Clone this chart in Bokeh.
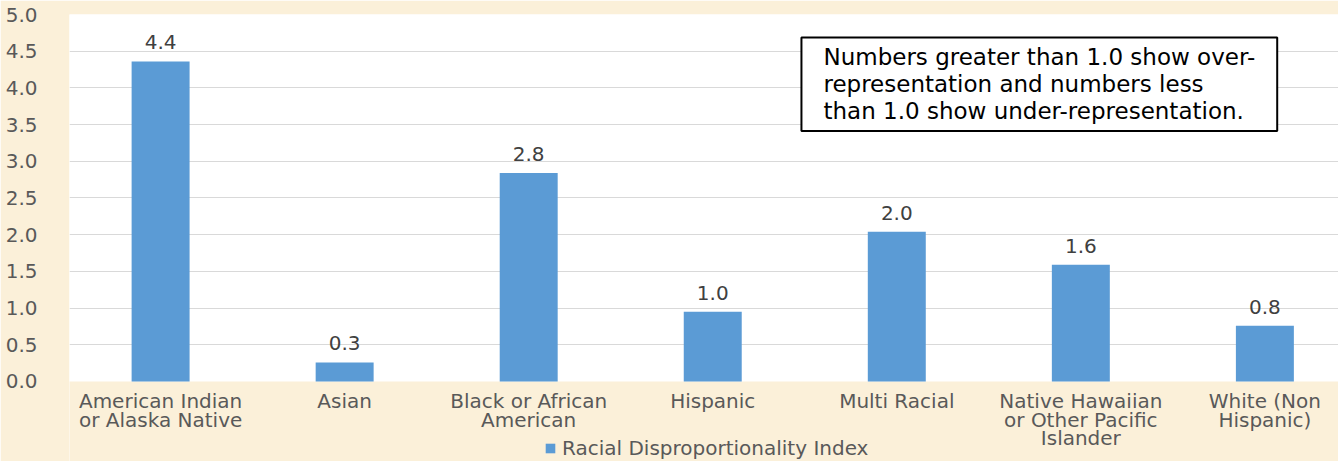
from bokeh.plotting import figure
from bokeh.models import (Range1d, FixedTicker, ColumnDataSource, LabelSet, Label,
                          Legend, LegendItem, NumeralTickFormatter, BoxAnnotation)
from bokeh.core.properties import value
from bokeh.embed import file_html
from bokeh.resources import INLINE

# ---- data ----
categories = [
    "American Indian\nor Alaska Native",
    "Asian",
    "Black or African\nAmerican",
    "Hispanic",
    "Multi Racial",
    "Native Hawaiian\nor Other Pacific\nIslander",
    "White (Non\nHispanic)",
]
values = [4.36, 0.26, 2.84, 0.95, 2.04, 1.59, 0.76]
value_labels = ["4.4", "0.3", "2.8", "1.0", "2.0", "1.6", "0.8"]
y_ticks = [0.0, 0.5, 1.0, 1.5, 2.0, 2.5, 3.0, 3.5, 4.0, 4.5, 5.0]
series_name = "Racial Disproportionality Index"
note_text = ("Numbers greater than 1.0 show over-\n"
             "representation and numbers less\n"
             "than 1.0 show under-representation.")

FONT = "DejaVu Sans"
TXT = "#595959"
BEIGE = "#fbf0d9"

xs = list(range(len(categories)))
src = ColumnDataSource(dict(x=xs, top=values, label=value_labels,
                            base=[0.0] * len(xs)))

# the frame runs to the bottom of the canvas; the area under 0 is the
# category-label / legend strip
p = figure(width=1338, height=461, output_backend="svg", toolbar_location=None,
           x_range=Range1d(-0.495, 6.40), y_range=Range1d(-1.09, 5),
           min_border_left=69, min_border_right=0, min_border_top=14,
           min_border_bottom=0)
p.background_fill_color = "white"
p.border_fill_color = BEIGE
p.outline_line_color = None

p.add_layout(BoxAnnotation(top=0, left=-0.6, fill_color=BEIGE, fill_alpha=1.0,
                           line_color=None, level="underlay"))

r = p.vbar(x="x", top="top", width=0.315, source=src,
           fill_color="#5b9bd5", line_color=None)

p.add_layout(LabelSet(x="x", y="top", text="label", source=src,
                      y_offset=12, text_align="center", text_baseline="alphabetic",
                      text_font=value(FONT), text_font_size="20px",
                      text_color="#404040"))

# category labels under the bars, one centred LabelSet per text line
split = [c.split("\n") for c in categories]
n_lines = max(len(s) for s in split)
line_offsets = [-27, -45.5, -64]
for k in range(n_lines):
    line_src = ColumnDataSource(dict(
        x=xs, base=[0.0] * len(xs),
        text=[s[k] if k < len(s) else "" for s in split]))
    p.add_layout(LabelSet(x="x", y="base", text="text", source=line_src,
                          y_offset=line_offsets[k], text_align="center",
                          text_baseline="alphabetic",
                          text_font=value(FONT), text_font_size="20px",
                          text_color=TXT))

p.xaxis.visible = False
p.yaxis.ticker = FixedTicker(ticks=y_ticks)
p.yaxis.formatter = NumeralTickFormatter(format="0.0")
p.yaxis.axis_line_color = None
p.yaxis.major_tick_line_color = None
p.yaxis.minor_tick_line_color = None
p.yaxis.major_label_text_font = FONT
p.yaxis.major_label_text_font_size = "20px"
p.yaxis.major_label_text_color = TXT
p.yaxis.major_label_standoff = 26

p.xgrid.grid_line_color = None
p.ygrid.grid_line_color = "#d9d9d9"
p.ygrid.ticker = FixedTicker(ticks=y_ticks[1:])

# note box
p.add_layout(Label(x=3.482, y=4.687, text=note_text, text_align="left",
                   text_baseline="top", text_font=FONT,
                   text_font_size="23px", text_color="black",
                   text_line_height=1.03,
                   background_fill_color="white",
                   border_line_color="black", border_line_width=2,
                   padding=(22, 7)))

legend = Legend(items=[LegendItem(label=series_name, renderers=[r])],
                location=(475, 1), orientation="horizontal",
                glyph_width=12, glyph_height=12, label_standoff=6,
                label_text_font=FONT, label_text_font_size="20px",
                label_text_color=TXT, background_fill_alpha=0,
                border_line_alpha=0, padding=0, margin=0)
p.add_layout(legend, "center")

open("out.html", "w").write(file_html(p, INLINE))
